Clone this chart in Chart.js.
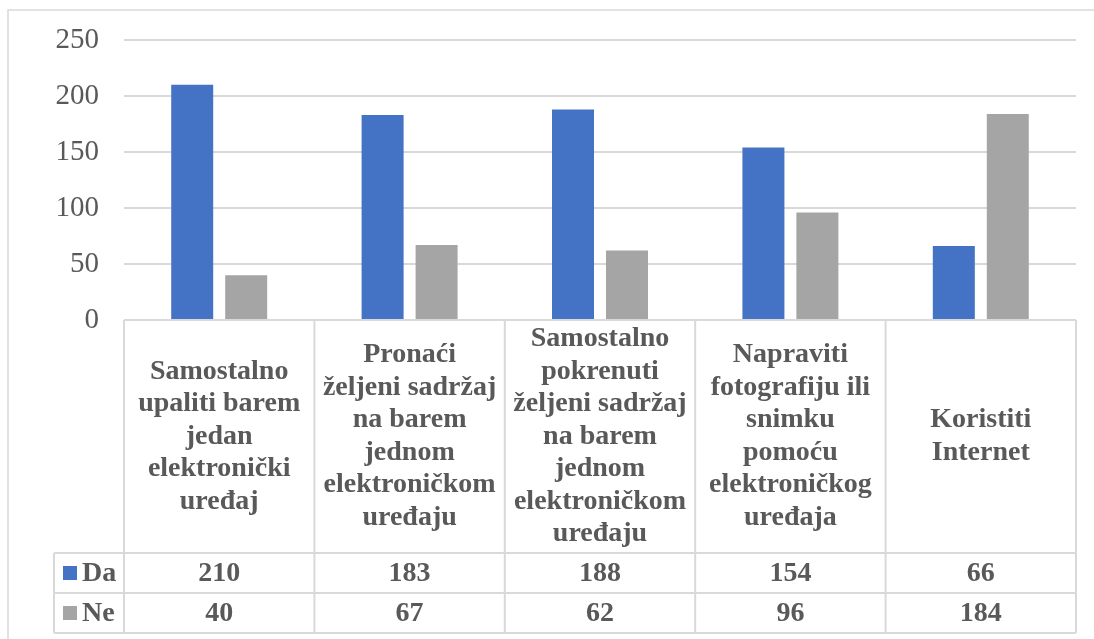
<!DOCTYPE html>
<html>
<head>
<meta charset="utf-8">
<script src="https://cdn.jsdelivr.net/npm/chart.js@4"></script>
<style>
  html, body { margin: 0; padding: 0; background: #fff; }
  #wrap { width: 1094px; height: 639px; }
</style>
</head>
<body>
<div id="wrap"><canvas id="barChart" width="1094" height="639"></canvas></div>
<script>
// Category labels, already broken into lines as in the table
const categories = [
  ["Samostalno", "upaliti barem", "jedan", "elektronički", "uređaj"],
  ["Pronaći", "željeni sadržaj", "na barem", "jednom", "elektroničkom", "uređaju"],
  ["Samostalno", "pokrenuti", "željeni sadržaj", "na barem", "jednom", "elektroničkom", "uređaju"],
  ["Napraviti", "fotografiju ili", "snimku", "pomoću", "elektroničkog", "uređaja"],
  ["Koristiti", "Internet"]
];
const daValues = [210, 183, 188, 154, 66];
const neValues = [40, 67, 62, 96, 184];
const seriesNames = ["Da", "Ne"];
const yTicks = [0, 50, 100, 150, 200, 250];

const textColor = "#595959";
const lineColor = "#d9d9d9";
const serif = "'Liberation Serif', 'Times New Roman', serif";

// Draws the outer frame and the data table under the plot
const tablePlugin = {
  id: "dataTable",
  beforeDraw(chart) {
    const ctx = chart.ctx;
    ctx.save();
    ctx.strokeStyle = lineColor;
    ctx.lineWidth = 1.5;
    ctx.strokeRect(8, 10, 1200, 800);
    ctx.restore();
  },
  afterDraw(chart) {
    const ctx = chart.ctx;
    const xs = chart.scales.x;
    const area = chart.chartArea;
    const colW = (area.right - area.left) / categories.length;
    const top = area.bottom;
    const rowDa = 553;
    const rowNe = 593;
    const bottom = 633;
    const legendLeft = 54;

    ctx.save();
    ctx.strokeStyle = lineColor;
    ctx.lineWidth = 2;
    ctx.beginPath();
    ctx.moveTo(area.left, top); ctx.lineTo(area.right, top);
    [rowDa, rowNe, bottom].forEach((y) => {
      ctx.moveTo(legendLeft, y); ctx.lineTo(area.right, y);
    });
    for (let i = 0; i <= categories.length; i++) {
      const x = area.left + i * colW;
      ctx.moveTo(x, top); ctx.lineTo(x, bottom);
    }
    ctx.moveTo(legendLeft, rowDa); ctx.lineTo(legendLeft, bottom);
    ctx.stroke();

    // category labels
    ctx.fillStyle = textColor;
    ctx.font = "bold 28px " + serif;
    ctx.textAlign = "center";
    ctx.textBaseline = "middle";
    const lh = 32.5;
    const midLabel = (top + rowDa) / 2;
    categories.forEach((lines, i) => {
      const cx = xs.getPixelForValue(i);
      const y0 = midLabel - ((lines.length - 1) * lh) / 2;
      lines.forEach((ln, j) => ctx.fillText(ln, cx, y0 + j * lh));
    });

    // values
    const rows = [
      { name: seriesNames[0], vals: daValues, color: chart.data.datasets[0].backgroundColor, y: (rowDa + rowNe) / 2 },
      { name: seriesNames[1], vals: neValues, color: chart.data.datasets[1].backgroundColor, y: (rowNe + bottom) / 2 }
    ];
    rows.forEach((r) => {
      ctx.textAlign = "center";
      r.vals.forEach((v, i) => ctx.fillText(String(v), xs.getPixelForValue(i), r.y + 1));
      ctx.fillStyle = r.color;
      ctx.fillRect(63, r.y - 7, 14, 14);
      ctx.fillStyle = textColor;
      ctx.textAlign = "left";
      ctx.fillText(r.name, 82, r.y + 1);
    });
    ctx.restore();
  }
};

new Chart(document.getElementById("barChart").getContext("2d"), {
  type: "bar",
  data: {
    labels: categories,
    datasets: [
      { label: seriesNames[0], data: daValues, backgroundColor: "#4472C4" },
      { label: seriesNames[1], data: neValues, backgroundColor: "#A5A5A5" }
    ]
  },
  options: {
    responsive: false,
    animation: false,
    events: [],
    categoryPercentage: 0.567,
    barPercentage: 0.778,
    layout: { padding: { left: 0, right: 18, top: 40, bottom: 319 } },
    plugins: { legend: { display: false }, tooltip: { enabled: false } },
    scales: {
      x: { display: false },
      y: {
        min: 0,
        max: 250,
        afterBuildTicks: (scale) => { scale.ticks = yTicks.map((v) => ({ value: v })); },
        afterFit: (scale) => {
          scale.width = 124;
          scale.paddingTop = 0;
          scale.paddingBottom = 0;
        },
        grid: { color: lineColor, lineWidth: 2, drawTicks: false },
        border: { display: false },
        ticks: {
          padding: 25,
          color: textColor,
          font: { family: serif, size: 29 }
        }
      }
    }
  },
  plugins: [tablePlugin]
});
</script>
</body>
</html>
